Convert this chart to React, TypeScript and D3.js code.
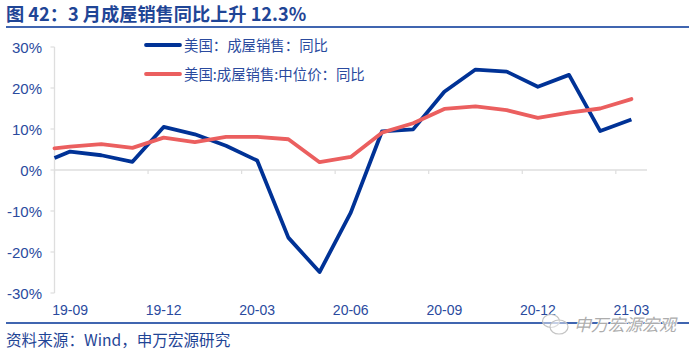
import React from "react";
import * as d3 from "d3";

const tickLabels = ["19-09", "19-12", "20-03", "20-06", "20-09", "20-12", "21-03"];
const yTicks = [-30, -20, -10, 0, 10, 20, 30];
// position in months from 19-09 (the first value sits on the axis, half a month earlier)
const months = [-0.5, 0, 1, 2, 3, 4, 5, 6, 7, 8, 9, 10, 11, 12, 13, 14, 15, 16, 17, 18];
const salesYoY = [2.9, 4.5, 3.6, 2.0, 10.5, 8.7, 5.9, 2.3, -16.5, -24.9, -10.4, 9.4, 9.9, 19.1, 24.5, 24.0, 20.3, 23.2, 9.5, 12.3];
const medianPriceYoY = [5.3, 5.7, 6.3, 5.4, 7.9, 6.8, 8.1, 8.1, 7.5, 1.9, 3.2, 9.1, 11.4, 14.9, 15.5, 14.6, 12.7, 14.0, 15.0, 17.3];
const titleText = "\u56FE 42\uFF1A3 \u6708\u6210\u5C4B\u9500\u552E\u540C\u6BD4\u4E0A\u5347 12.3%";
const legendNames = [
  "\u7F8E\u56FD\uFF1A\u6210\u5C4B\u9500\u552E\uFF1A\u540C\u6BD4",
  "\u7F8E\u56FD:\u6210\u5C4B\u9500\u552E:\u4E2D\u4F4D\u4EF7\uFF1A\u540C\u6BD4",
];
const sourceText = "\u8D44\u6599\u6765\u6E90\uFF1AWind\uFF0C\u7533\u4E07\u5B8F\u6E90\u7814\u7A76";
const watermarkText = "\u7533\u4E07\u5B8F\u6E90\u5B8F\u89C2";

const BLUE = "#003296";
const RED = "#EB5F5F";
const TEXT = "#2A4A9E";
const CJK = "'Noto Sans CJK SC','Liberation Sans',sans-serif";
const LATIN = "'Liberation Sans',Arial,sans-serif";

export default function App() {
  const x = d3.scaleLinear().domain([-0.5, 18.5]).range([54.5, 647]);
  const y = d3.scaleLinear().domain([-30, 30]).range([293, 47]);
  const line = d3
    .line<number>()
    .x((_, i) => x(months[i]))
    .y((d) => y(d));
  const tickIdx = tickLabels.map((_, i) => i * 3);

  return (
    <svg
      width={700}
      height={356}
      style={{ position: "absolute", left: 0, top: 0, background: "#fff" }}
    >
      <text x={6} y={21} fontFamily={CJK} fontWeight={700} fontSize={18.2} fill="#1F4596">
        {titleText}
      </text>
      <line x1={6} x2={689} y1={27} y2={27} stroke={BLUE} strokeWidth={1.6} />

      {/* axes */}
      <line x1={x(-0.5)} x2={x(-0.5)} y1={y(30)} y2={y(-30)} stroke="#DEDEDE" strokeWidth={1.3} />
      <line x1={x(-0.5)} x2={x(18.5)} y1={y(0)} y2={y(0)} stroke="#DEDEDE" strokeWidth={1.5} />
      {yTicks.map((t) => (
        <g key={t}>
          <line x1={x(-0.5) - 4} x2={x(-0.5)} y1={y(t)} y2={y(t)} stroke="#DEDEDE" strokeWidth={1.2} />
          <text x={42} y={y(t) + 5.5} textAnchor="end" fontFamily={LATIN} fontSize={15} fill={TEXT}>
            {t}%
          </text>
        </g>
      ))}
      {tickIdx.map((m) => (
        <line key={m} x1={x(m - 0.5)} x2={x(m - 0.5)} y1={y(0)} y2={y(0) + 4} stroke="#DEDEDE" strokeWidth={1.2} />
      ))}
      {tickLabels.map((l, i) => (
        <text key={l} x={x(tickIdx[i])} y={315} textAnchor="middle" fontFamily={LATIN} fontSize={14} fill={TEXT}>
          {l}
        </text>
      ))}

      {/* series */}
      <path d={line(salesYoY) ?? ""} fill="none" stroke={BLUE} strokeWidth={3.8} strokeLinejoin="round" />
      <path d={line(medianPriceYoY) ?? ""} fill="none" stroke={RED} strokeWidth={3.8} strokeLinejoin="round" strokeLinecap="round" />

      {/* legend */}
      {legendNames.map((name, i) => (
        <g key={name}>
          <line x1={146} x2={180} y1={45 + i * 29} y2={45 + i * 29} stroke={i === 0 ? BLUE : RED} strokeWidth={3.8} strokeLinecap="round" />
          <text x={184} y={51 + i * 29} fontFamily={CJK} fontSize={14.4} fill={TEXT}>
            {name}
          </text>
        </g>
      ))}

      {/* footer */}
      <line x1={6} x2={689} y1={323} y2={323} stroke={BLUE} strokeWidth={1.6} />
      <text x={6} y={346} fontFamily={CJK} fontSize={15.6} fill="#1F4596">
        {sourceText}
      </text>

      {/* watermark */}
      <g fill="#fff" fillOpacity={0.45} stroke="#C4C4C4" strokeWidth={1.2}>
        <ellipse cx={551} cy={321} rx={8.5} ry={6.5} />
        <ellipse cx={559} cy={327} rx={9} ry={7} />
      </g>
      <text x={574} y={331} fontFamily={CJK} fontSize={17} fill="#ADADAD" fontStyle="italic" stroke="#fff" strokeWidth={1.2} paintOrder="stroke">
        {watermarkText}
      </text>
    </svg>
  );
}
